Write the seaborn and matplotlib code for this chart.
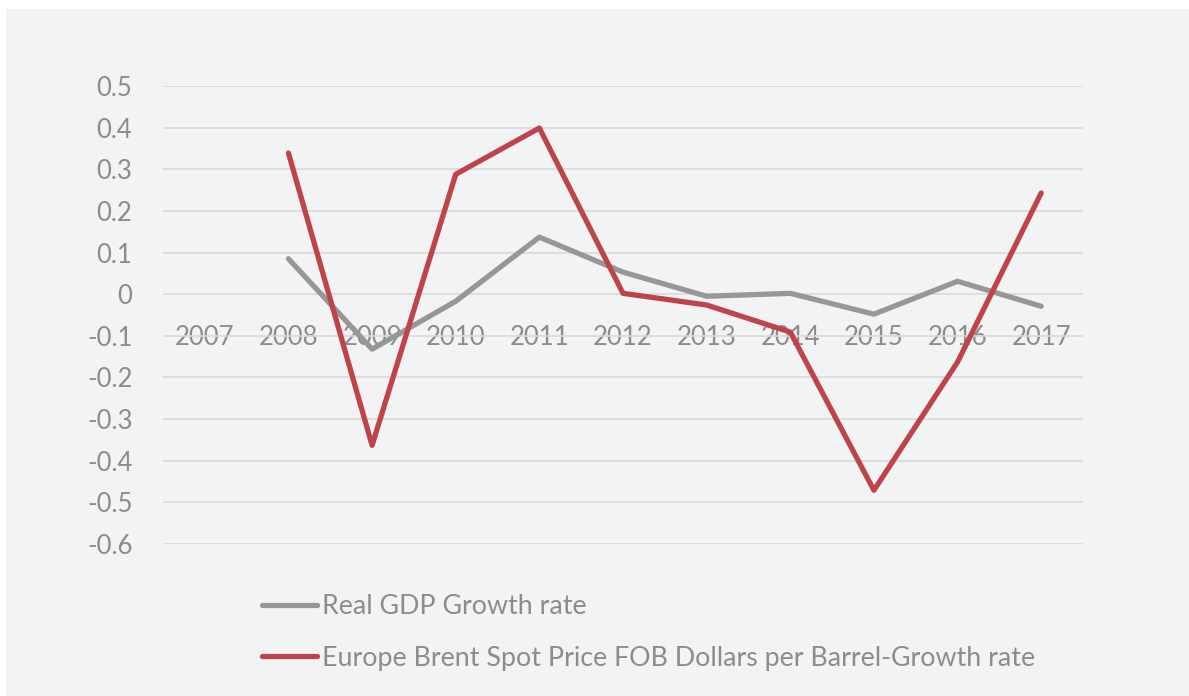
import matplotlib
matplotlib.use("Agg")
import matplotlib.pyplot as plt
from matplotlib.patches import Rectangle
from matplotlib.lines import Line2D
import seaborn as sns
import pandas as pd

# datos
anios = ["2007", "2008", "2009", "2010", "2011", "2012", "2013", "2014", "2015", "2016", "2017"]
pib = [None, 0.085, -0.132, -0.017, 0.137, 0.053, -0.005, 0.002, -0.048, 0.031, -0.029]
brent = [None, 0.339, -0.363, 0.288, 0.399, 0.002, -0.026, -0.091, -0.471, -0.163, 0.243]
serie_pib = "Real GDP Growth rate"
serie_brent = "Europe Brent Spot Price FOB Dollars per Barrel-Growth rate"
yticks = [0.5, 0.4, 0.3, 0.2, 0.1, 0, -0.1, -0.2, -0.3, -0.4, -0.5, -0.6]

df = pd.DataFrame({
    "anio": anios * 2,
    "valor": pib + brent,
    "serie": [serie_pib] * len(anios) + [serie_brent] * len(anios),
})
df["valor"] = df["valor"].astype(float)
df["x"] = df["anio"].map({a: i for i, a in enumerate(anios)})

sns.set_theme(style="white")
plt.rcParams["font.family"] = ["Lato", "DejaVu Sans"]

fondo = "#F2F3F5"
texto = "#8C8C8C"
gris = "#979797"
rojo = "#BF4449"

fig = plt.figure(figsize=(11.89, 6.96), dpi=100, facecolor="white")
fig.patches.append(Rectangle((6 / 1189, 0), 1, 1 - 9 / 696, transform=fig.transFigure,
                             facecolor=fondo, edgecolor="none", zorder=-1))
ax = fig.add_axes([163 / 1189, 1 - 544 / 696, 920 / 1189, 458 / 696])
ax.set_facecolor("none")

sns.lineplot(data=df.dropna(), x="x", y="valor", hue="serie",
             palette={serie_pib: gris, serie_brent: rojo},
             linewidth=3.8, ax=ax, legend=False, solid_capstyle="round")

ax.set_xlim(-0.5, len(anios) - 0.5)
ax.set_ylim(-0.6, 0.5)
ax.set_yticks(yticks)
ax.set_yticklabels([f"{v:g}" for v in yticks])
ax.set_xticks(range(len(anios)))
ax.set_xticklabels(anios)
ax.yaxis.grid(True, color="#D9D9D9", linewidth=1.2)
ax.set_axisbelow(True)
for s in ax.spines.values():
    s.set_visible(False)
ax.spines["bottom"].set_position(("data", 0))
ax.tick_params(axis="both", length=0, labelsize=18.5, colors=texto)
ax.tick_params(axis="y", pad=22)
ax.tick_params(axis="x", pad=22)
ax.set_xlabel("")
ax.set_ylabel("")
for t in ax.get_xticklabels() + ax.get_yticklabels():
    t.set_clip_on(False)

handles = [Line2D([], [], color=gris, linewidth=3.8, solid_capstyle="round"),
           Line2D([], [], color=rojo, linewidth=3.8, solid_capstyle="round")]
leg = fig.legend(handles, [serie_pib, serie_brent], loc="upper left",
                 bbox_to_anchor=(262 / 1189, 1 - 594 / 696), frameon=False,
                 fontsize=19.3, handlelength=2.05, handletextpad=0.2, labelspacing=1.0,
                 borderaxespad=0, borderpad=0)
for t in leg.get_texts():
    t.set_color(texto)

fig.savefig("out.png", dpi=100, facecolor="white")
